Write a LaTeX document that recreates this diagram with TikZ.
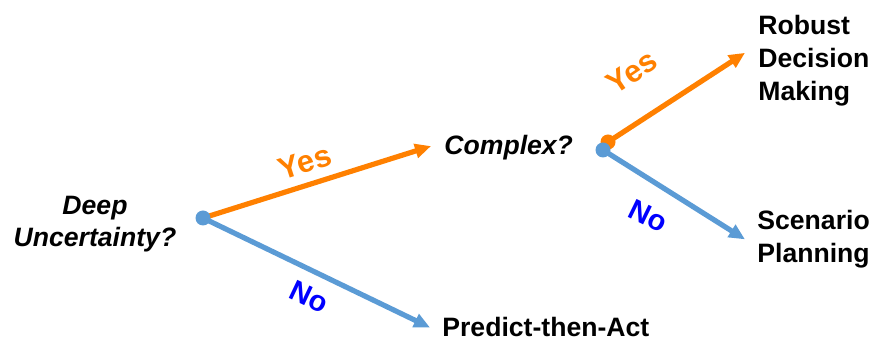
\documentclass[tikz,border=0pt]{standalone}
\usepackage{fontspec}
\setmainfont{Liberation Sans}
\usetikzlibrary{arrows.meta,backgrounds}
\definecolor{yesC}{RGB}{255,128,0}
\definecolor{noLine}{RGB}{91,155,213}
\definecolor{noText}{RGB}{0,0,255}

\begin{document}
\begin{tikzpicture}[x=0.5pt,y=-0.5pt, qnode/.style={inner sep=0pt,font=\fontsize{13.3}{16}\selectfont\bfseries\itshape,align=center}, anode/.style={inner sep=0pt,font=\fontsize{13.3}{16.5}\selectfont\bfseries,align=left}, dotnode/.style={circle,inner sep=0pt,minimum size=7.5pt}, yesarr/.style={draw=yesC,line width=2.6pt,-{Triangle[length=8pt,width=7pt]}}, noarr/.style={draw=noLine,line width=2.6pt,-{Triangle[length=8pt,width=7pt]}}, yeslbl/.style={text=yesC,inner sep=0pt,font=\fontsize{15.5}{15.5}\selectfont\bfseries}, nolbl/.style={text=noText,inner sep=0pt,font=\fontsize{14.5}{14.5}\selectfont\bfseries}]
            \useasboundingbox (0,0) rectangle (873,341);

            \node[qnode,anchor=north] (deep) at (95,196) {Deep\\Uncertainty?};
            \node[qnode,anchor=base west] (cplx) at (444,155) {Complex?};
            \node[anode,anchor=base west] (pta) at (442,337) {Predict-then-Act};
            \node[anode,anchor=north west] (rdm) at (758,15) {Robust\\Decision\\Making};
            \node[anode,anchor=north west] (scp) at (757,210) {Scenario\\Planning};

            \node[dotnode,fill=noLine] (d1) at (203,218) {};
            \node[dotnode,fill=yesC] (d2o) at (608,142) {};
            \node[dotnode,fill=noLine] (d2b) at (603,150) {};

            \coordinate (tc) at ([xshift=-6.5pt,yshift=1pt]cplx.west);
            \coordinate (tp) at ([xshift=-6pt,yshift=0pt]pta.west);
            \coordinate (tr) at ([xshift=-6.5pt,yshift=4pt]rdm.west);
            \coordinate (ts) at ([xshift=-6pt,yshift=0pt]scp.west);

            \begin{scope}[on background layer]
                \draw[yesarr] (d1.center)--(tc);
                \draw[noarr] (d1.center)--(tp);
                \draw[yesarr] (d2o.center)--(tr);
                \draw[noarr] (d2b.center)--(ts);
            \end{scope}

            \node[yeslbl,rotate=17.8] (y1) at (305,162) {Yes};
            \node[nolbl,rotate=-25.3] (n1) at (309,297) {No};
            \node[yeslbl,rotate=34] (y2) at (632,72) {Yes};
            \node[nolbl,rotate=-26] (n2) at (648,216) {No};
        \end{tikzpicture}
\end{document}
